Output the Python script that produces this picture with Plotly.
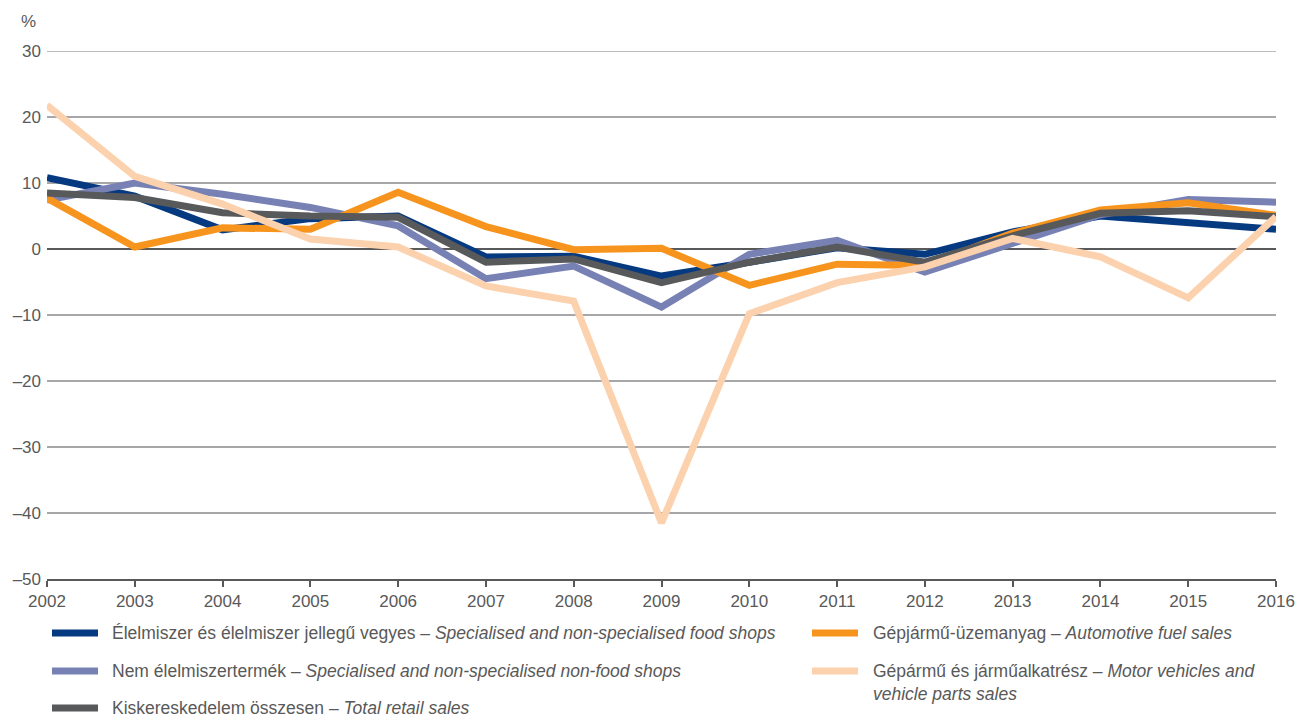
import plotly.graph_objects as go

years = list(range(2002, 2017))

food = [10.8, 8.0, 2.9, 4.6, 5.0, -1.2, -1.1, -4.1, -2.0, 0.2, -0.8, 2.6, 5.0, 4.1, 3.0]
nonfood = [7.4, 10.0, 8.3, 6.3, 3.5, -4.5, -2.6, -8.8, -0.8, 1.3, -3.5, 0.8, 5.2, 7.5, 7.1]
fuel = [7.7, 0.3, 3.2, 3.0, 8.6, 3.4, -0.1, 0.1, -5.5, -2.3, -2.5, 2.4, 5.9, 7.0, 5.1]
total = [8.5, 7.8, 5.5, 5.0, 4.8, -2.0, -1.5, -5.1, -2.0, 0.3, -2.0, 2.0, 5.4, 5.8, 4.9]
motor = [21.8, 11.0, 6.8, 1.5, 0.3, -5.6, -7.9, -41.5, -9.8, -5.1, -2.7, 1.6, -1.2, -7.4, 4.9]

y_ticks = [30, 20, 10, 0, -10, -20, -30, -40, -50]
y_tick_labels = ["30", "20", "10", "0", "–10", "–20", "–30", "–40", "–50"]

series = [
    ("Élelmiszer és élelmiszer jellegű vegyes – <i>Specialised and non-specialised food shops</i>", food, "#063a80"),
    ("Nem élelmiszertermék – <i>Specialised and non-specialised non-food shops</i>", nonfood, "#7781b4"),
    ("Gépjármű-üzemanyag – <i>Automotive fuel sales</i>", fuel, "#f7941e"),
    ("Kiskereskedelem összesen – <i>Total retail sales</i>", total, "#58595b"),
    ("Gépármű és járműalkatrész – <i>Motor vehicles and<br>vehicle parts sales</i>", motor, "#fcd1ae"),
]

FONT = "Liberation Sans Narrow, Arial Narrow, Liberation Sans, Arial"
TXT = "#595959"

fig = go.Figure()
for name, vals, col in series:
    fig.add_trace(go.Scatter(x=years, y=vals, mode="lines", name=name,
                             line=dict(color=col, width=7), showlegend=False,
                             hoverinfo="skip"))

W, H = 1299, 717
L, T = 47, 51
PR, PB = 1276, 579
R, B = W - PR, H - PB
pw, ph = W - L - R, H - T - B

def px(x):
    return (x - L) / pw

def py(y):
    return (H - B - y) / ph

# (series index, swatch left, swatch right, text left, row centre)
legend_pos = [(0, 52, 98, 110, 633), (2, 812, 858, 871, 633),
              (1, 52, 98, 110, 671), (4, 812, 858, 871, 671),
              (3, 52, 98, 110, 708)]
shapes = []
annotations = []
for idx, sx0, sx1, tx, ry in legend_pos:
    name, _, col = series[idx]
    shapes.append(dict(type="line", xref="paper", yref="paper",
                       x0=px(sx0), x1=px(sx1), y0=py(ry), y1=py(ry),
                       line=dict(color=col, width=7)))
    annotations.append(dict(xref="paper", yref="paper", x=px(tx),
                            y=py(ry - 12), xanchor="left", yanchor="top",
                            text=name, showarrow=False, align="left",
                            font=dict(family=FONT, size=17.5, color=TXT)))

# top gridline at 30
shapes.append(dict(type="line", xref="paper", yref="y", x0=0, x1=1, y0=30, y1=30,
                   line=dict(color="#a7a7a9", width=1.5), layer="below"))

annotations.append(dict(xref="paper", yref="paper", x=px(19), y=py(10),
                        xanchor="left", yanchor="top", text="%", showarrow=False,
                        font=dict(family=FONT, size=17, color=TXT)))

fig.update_layout(
    width=W, height=H, autosize=False,
    margin=dict(l=L, r=R, t=T, b=B, pad=0, autoexpand=False),
    plot_bgcolor="white", paper_bgcolor="white",
    font=dict(family=FONT, size=17, color=TXT),
    shapes=shapes, annotations=annotations,
    hovermode=False,
    xaxis=dict(range=[2002, 2016], tickvals=years, ticktext=[str(y) for y in years],
               automargin=False,
               showgrid=False, zeroline=False, showline=True, linecolor="#58595b",
               linewidth=2, ticks="outside", ticklen=6, tickcolor="#58595b",
               tickwidth=2, tickfont=dict(family=FONT, size=17, color=TXT)),
    yaxis=dict(range=[-50, 30], tickvals=y_ticks, ticktext=y_tick_labels,
               automargin=False,
               showgrid=True, gridcolor="#a7a7a9", gridwidth=1.5,
               zeroline=True, zerolinecolor="#58595b", zerolinewidth=2,
               showline=False, ticks="", ticklabelstandoff=5,
               tickfont=dict(family=FONT, size=17, color=TXT)),
)

fig.write_html("out.html", config={"displayModeBar": False},
               post_script="document.body.style.margin='0';document.body.style.overflow='hidden';")
